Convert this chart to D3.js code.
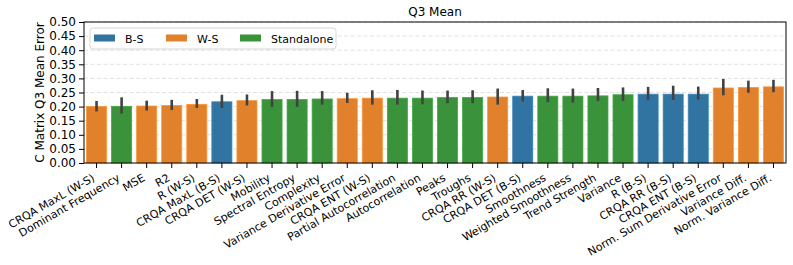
<!DOCTYPE html>
<html>
<head>
<meta charset="utf-8">
<script src="https://cdn.jsdelivr.net/npm/d3@7"></script>
<style>
  body { margin: 0; background: #fff; }
  text { font-family: "DejaVu Sans", sans-serif; fill: #000; }
</style>
</head>
<body>
<div id="chart"></div>
<script>
// chart data
var labels = ['CRQA MaxL (W-S)', 'Dominant Frequency', 'MSE', 'R2', 'R (W-S)', 'CRQA MaxL (B-S)',
  'CRQA DET (W-S)', 'Mobility', 'Spectral Entropy', 'Complexity', 'Variance Derivative Error',
  'CRQA ENT (W-S)', 'Partial Autocorrelation', 'Autocorrelation', 'Peaks', 'Troughs',
  'CRQA RR (W-S)', 'CRQA DET (B-S)', 'Smoothness', 'Weighted Smoothness', 'Trend Strength',
  'Variance', 'R (B-S)', 'CRQA RR (B-S)', 'CRQA ENT (B-S)', 'Norm. Sum Derivative Error',
  'Variance Diff.', 'Norm. Variance Diff.'];
var groups = ['W-S', 'Standalone', 'W-S', 'W-S', 'W-S', 'B-S', 'W-S', 'Standalone', 'Standalone',
  'Standalone', 'W-S', 'W-S', 'Standalone', 'Standalone', 'Standalone', 'Standalone', 'W-S', 'B-S',
  'Standalone', 'Standalone', 'Standalone', 'Standalone', 'B-S', 'B-S', 'B-S', 'W-S', 'W-S', 'W-S'];
var means = [0.200, 0.201, 0.202, 0.204, 0.208, 0.217, 0.221, 0.225, 0.225, 0.227, 0.228, 0.230,
  0.230, 0.230, 0.232, 0.232, 0.234, 0.237, 0.237, 0.237, 0.238, 0.242, 0.244, 0.244, 0.244,
  0.266, 0.268, 0.270];
var ciLow = [0.183, 0.175, 0.186, 0.188, 0.195, 0.195, 0.204, 0.199, 0.199, 0.207, 0.213, 0.207,
  0.207, 0.208, 0.212, 0.212, 0.207, 0.218, 0.216, 0.214, 0.220, 0.220, 0.224, 0.224, 0.225,
  0.240, 0.249, 0.251];
var ciHigh = [0.220, 0.233, 0.221, 0.224, 0.227, 0.242, 0.243, 0.255, 0.256, 0.255, 0.249, 0.258,
  0.259, 0.257, 0.257, 0.258, 0.264, 0.259, 0.265, 0.264, 0.266, 0.268, 0.270, 0.274, 0.271,
  0.298, 0.292, 0.295];
var legendGroups = ['B-S', 'W-S', 'Standalone'];
var yTicks = [0, 0.05, 0.1, 0.15, 0.2, 0.25, 0.3, 0.35, 0.4, 0.45, 0.5];

var width = 793, height = 265;
var margin = {top: 22, right: 7, bottom: 102, left: 84};
var plotW = width - margin.left - margin.right;
var plotH = height - margin.top - margin.bottom;

var color = d3.scaleOrdinal()
    .domain(legendGroups)
    .range(['#3274a1', '#e1812c', '#3a923a']);

var x = d3.scaleBand()
    .domain(labels)
    .range([0, plotW])
    .paddingInner(0.2)
    .paddingOuter(0.1);
var y = d3.scaleLinear().domain([0, 0.5]).range([plotH, 0]);

var svg = d3.select('#chart').append('svg')
    .attr('width', width)
    .attr('height', height);
var g = svg.append('g')
    .attr('transform', 'translate(' + margin.left + ',' + margin.top + ')');

// dashed grid
g.selectAll('.grid')
  .data(yTicks)
  .enter()
  .append('line')
    .attr('x1', 0)
    .attr('x2', plotW)
    .attr('y1', function(d) { return y(d); })
    .attr('y2', function(d) { return y(d); })
    .attr('stroke', '#d9d9d9')
    .attr('stroke-width', 0.8)
    .attr('stroke-dasharray', '4,2.5');

// bars
g.selectAll('.bar')
  .data(labels)
  .enter()
  .append('rect')
    .attr('x', function(d) { return x(d); })
    .attr('y', function(d, i) { return y(means[i]); })
    .attr('width', x.bandwidth())
    .attr('height', function(d, i) { return plotH - y(means[i]); })
    .attr('fill', function(d, i) { return color(groups[i]); })
    .attr('stroke', function(d, i) { return d3.color(color(groups[i])).brighter(0.4); })
    .attr('stroke-width', 0.8);

// error bars
g.selectAll('.err')
  .data(labels)
  .enter()
  .append('line')
    .attr('x1', function(d) { return x(d) + x.bandwidth() / 2; })
    .attr('x2', function(d) { return x(d) + x.bandwidth() / 2; })
    .attr('y1', function(d, i) { return y(ciLow[i]); })
    .attr('y2', function(d, i) { return y(ciHigh[i]); })
    .attr('stroke', '#424242')
    .attr('stroke-width', 2.6);

// axes
var yAxis = g.append('g')
    .call(d3.axisLeft(y).tickValues(yTicks).tickFormat(d3.format('.2f')).tickSize(5).tickPadding(3));
var xAxis = g.append('g')
    .attr('transform', 'translate(0,' + plotH + ')')
    .call(d3.axisBottom(x).tickSize(5).tickPadding(2));

[xAxis, yAxis].forEach(function(a) {
  a.select('.domain').remove();
  a.selectAll('line').attr('stroke', '#000').attr('stroke-width', 1);
  a.selectAll('text').style('font-size', '12px').attr('fill', '#000');
});
// rotated labels: right end of each label sits under its tick
xAxis.selectAll('text')
    .style('font-size', '11px')
    .attr('text-anchor', 'end')
    .attr('x', 0)
    .attr('y', 0)
    .attr('dy', 0)
    .attr('transform', 'translate(-1,17) rotate(-30)');

// frame
g.append('rect')
    .attr('width', plotW)
    .attr('height', plotH)
    .attr('fill', 'none')
    .attr('stroke', '#000')
    .attr('stroke-width', 1);

// title and y label
svg.append('text')
    .attr('x', margin.left + plotW / 2)
    .attr('y', 16)
    .attr('text-anchor', 'middle')
    .style('font-size', '12px')
    .text('Q3 Mean');
svg.append('text')
    .attr('transform', 'translate(44,' + (margin.top + plotH / 2) + ') rotate(-90)')
    .attr('text-anchor', 'middle')
    .style('font-size', '12px')
    .text('C Matrix Q3 Mean Error');

// legend
var legend = g.append('g').attr('transform', 'translate(6,6)');
legend.append('rect')
    .attr('width', 246)
    .attr('height', 21)
    .attr('rx', 3)
    .attr('fill', 'white')
    .attr('fill-opacity', 0.8)
    .attr('stroke', '#cccccc')
    .attr('stroke-width', 0.8);
var legendX = [4, 76, 150];
legendGroups.forEach(function(k, i) {
  legend.append('rect')
      .attr('x', legendX[i])
      .attr('y', 6.5)
      .attr('width', 21)
      .attr('height', 7)
      .attr('fill', color(k));
  legend.append('text')
      .attr('x', legendX[i] + 31)
      .attr('y', 14.5)
      .style('font-size', '11px')
      .text(k);
});
</script>
</body>
</html>
